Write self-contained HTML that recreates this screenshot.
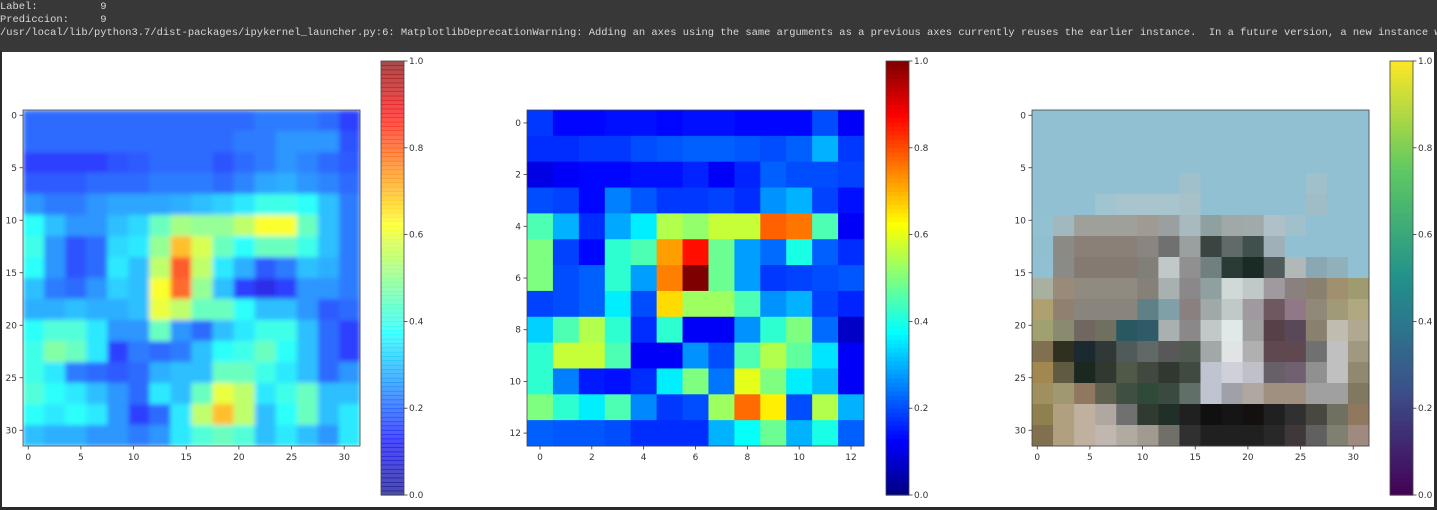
<!DOCTYPE html>
<html><head><meta charset="utf-8"><style>
html,body{margin:0;padding:0;width:1437px;height:510px;overflow:hidden;background:#2b2b2b}
#top{position:absolute;left:0;top:0;width:1437px;height:51px;background:#383838;color:#d8d8d8;font-family:"Liberation Mono",monospace;font-size:10.45px;line-height:13px;padding-top:1px;white-space:pre;overflow:hidden}
#out{position:absolute;left:2px;top:52px;width:1432px;height:455px;background:#fff}
svg text{font-family:"DejaVu Sans","Liberation Sans",sans-serif;font-size:9px;fill:#333}
</style></head><body>
<div id="top">Label:          9
Prediccion:     9
/usr/local/lib/python3.7/dist-packages/ipykernel_launcher.py:6: MatplotlibDeprecationWarning: Adding an axes using the same arguments as a previous axes currently reuses the earlier instance.  In a future version, a new instance will</div>
<div id="out"></div>
<svg id="fig" width="1437" height="510" style="position:absolute;left:0;top:0"></svg>
<script>
const heat32 = [
[0.2,0.2,0.2,0.2,0.2,0.2,0.2,0.2,0.2,0.2,0.2,0.22,0.22,0.22,0.2,0.15],
[0.2,0.2,0.2,0.2,0.2,0.2,0.2,0.2,0.2,0.2,0.22,0.22,0.25,0.25,0.25,0.17],
[0.15,0.15,0.15,0.15,0.17,0.18,0.2,0.2,0.2,0.17,0.2,0.22,0.25,0.23,0.2,0.18],
[0.18,0.18,0.18,0.2,0.2,0.2,0.22,0.22,0.22,0.2,0.23,0.27,0.28,0.25,0.23,0.2],
[0.25,0.22,0.22,0.25,0.27,0.27,0.27,0.28,0.3,0.32,0.35,0.4,0.4,0.38,0.3,0.22],
[0.38,0.3,0.25,0.25,0.3,0.33,0.45,0.52,0.5,0.5,0.55,0.62,0.62,0.45,0.3,0.22],
[0.4,0.25,0.17,0.2,0.33,0.35,0.5,0.7,0.58,0.45,0.38,0.45,0.45,0.4,0.3,0.22],
[0.38,0.25,0.17,0.2,0.35,0.3,0.55,0.82,0.55,0.35,0.28,0.18,0.22,0.3,0.28,0.22],
[0.3,0.22,0.2,0.25,0.32,0.3,0.62,0.8,0.5,0.3,0.15,0.1,0.15,0.25,0.25,0.22],
[0.28,0.28,0.3,0.28,0.28,0.3,0.6,0.55,0.45,0.45,0.38,0.3,0.3,0.25,0.18,0.2],
[0.38,0.42,0.42,0.35,0.25,0.25,0.45,0.25,0.2,0.3,0.35,0.4,0.4,0.3,0.2,0.15],
[0.4,0.48,0.45,0.35,0.15,0.22,0.2,0.22,0.3,0.38,0.4,0.45,0.38,0.3,0.2,0.15],
[0.4,0.35,0.22,0.2,0.18,0.2,0.28,0.3,0.3,0.45,0.45,0.4,0.35,0.3,0.2,0.25],
[0.42,0.38,0.35,0.3,0.25,0.2,0.35,0.3,0.45,0.6,0.55,0.35,0.4,0.45,0.3,0.3],
[0.38,0.35,0.38,0.35,0.25,0.15,0.2,0.35,0.55,0.7,0.55,0.3,0.38,0.45,0.3,0.35],
[0.3,0.28,0.28,0.25,0.25,0.22,0.25,0.35,0.42,0.45,0.42,0.3,0.35,0.3,0.25,0.35]];
const heat13 = [
[0.18,0.13,0.13,0.14,0.14,0.13,0.14,0.14,0.13,0.13,0.13,0.2,0.12],
[0.17,0.17,0.18,0.18,0.2,0.21,0.22,0.22,0.21,0.2,0.22,0.3,0.18],
[0.1,0.12,0.13,0.13,0.14,0.14,0.16,0.12,0.16,0.22,0.2,0.2,0.19],
[0.2,0.19,0.13,0.25,0.21,0.18,0.18,0.19,0.17,0.27,0.3,0.19,0.14],
[0.45,0.3,0.17,0.29,0.36,0.55,0.52,0.57,0.57,0.78,0.76,0.45,0.12],
[0.5,0.19,0.13,0.42,0.45,0.72,0.86,0.48,0.28,0.23,0.4,0.22,0.17],
[0.5,0.2,0.22,0.42,0.28,0.75,1.0,0.48,0.28,0.18,0.19,0.2,0.21],
[0.19,0.2,0.22,0.36,0.2,0.66,0.53,0.53,0.45,0.27,0.3,0.19,0.16],
[0.33,0.45,0.55,0.42,0.17,0.42,0.12,0.12,0.27,0.42,0.5,0.23,0.07],
[0.42,0.57,0.57,0.45,0.12,0.12,0.27,0.2,0.45,0.55,0.47,0.35,0.12],
[0.42,0.25,0.15,0.14,0.17,0.36,0.5,0.24,0.6,0.5,0.36,0.31,0.12],
[0.5,0.42,0.36,0.45,0.26,0.18,0.2,0.53,0.77,0.64,0.2,0.55,0.3],
[0.22,0.21,0.21,0.2,0.17,0.17,0.17,0.3,0.38,0.48,0.3,0.4,0.22]];
const S='#90c0d2';
const truck = [
[S,S,S,S,S,S,S,S,S,S,S,S,S,S,S,S],
[S,S,S,S,S,S,S,S,S,S,S,S,S,S,S,S],
[S,S,S,S,S,S,S,S,S,S,S,S,S,S,S,S],
[S,S,S,S,S,S,S,'#a0c0cc',S,S,S,S,S,'#a0c0cc',S,S],
[S,S,S,'#a0c4d0','#a8c4cc','#a8c4cc','#a8c4cc','#a8c0c8',S,S,S,S,S,'#a0bcc6',S,S],
['#92c2d2','#a0b8be','#a0a09a','#a0a09a','#a0a09a','#a09a92','#9aa0a0','#a9b9c0','#8fa0a0','#a0a8a8','#a0aaaa','#b0c0c8','#a0c0cc',S,S,S],
['#90c0d0','#8c8a84','#8a8078','#8a8078','#8a8078','#8a8580','#707070','#9aa0a0','#3a4440','#606a68','#40504c','#a0b0b8',S,S,S,S],
[S,'#8a8a86','#857a72','#857a72','#857a72','#808078','#c0c8c8','#909090','#708080','#2a3a34','#1a2a24','#505a58','#b0b8b8','#8aa8b4','#90b0ba',S],
['#a8b0a0','#9a8a78','#908a80','#908a80','#908a80','#858078','#a8b0b0','#8a8888','#90a0a0','#d0d8d8','#c0c8c8','#a09aa0','#8a8080','#8a8070','#a09070','#a09a70'],
['#b0a070','#908070','#8a857c','#8a857c','#8a857c','#608088','#80a0a8','#8a8080','#a0a8a8','#c0c8c8','#a09aa0','#705860','#907888','#908878','#a09a78','#b0a880'],
['#a0a070','#8a8a70','#706860','#707060','#2a5860','#305a68','#a8b0b0','#8a8888','#c0c8c8','#e0e8e8','#a0a0a0','#584048','#584858','#8a8070','#c0bcb0','#b0a890'],
['#807050','#303020','#1a2a30','#303838','#505a5a','#606868','#585858','#505a50','#a0a8a8','#e0e4e4','#b0b0b0','#604850','#604850','#707070','#c0c0c0','#a09880'],
['#a08850','#605a40','#1a2820','#303830','#505848','#404840','#303830','#404a40','#c0c4d0','#d0d0d8','#c0c0c8','#686068','#706070','#909090','#c0c0c0','#908870'],
['#a09060','#a09870','#907860','#606050','#405040','#304a3a','#3a4a40','#607068','#c0c4d0','#a0a0a8','#b0a8a0','#a09080','#a09080','#a0a0a0','#a0a0a0','#807860'],
['#908050','#b0a080','#c0b0a0','#b0a8a0','#707070','#303a30','#203028','#202020','#101010','#151515','#151010','#202020','#303030','#484840','#707060','#907860'],
['#807050','#b0a080','#c0b0a0','#c0b8b0','#b0aaa0','#a09a90','#707068','#303030','#202020','#202020','#202020','#282828','#403838','#606060','#808070','#a08a80']];
const ticks32 = [0,5,10,15,20,25,30];
const ticks13 = [0,2,4,6,8,10,12];
const cbTicks = [0.0,0.2,0.4,0.6,0.8,1.0];

const NS='http://www.w3.org/2000/svg';
const svg=document.getElementById('fig');
function el(t,a,p){const e=document.createElementNS(NS,t);for(const k in a)e.setAttribute(k,a[k]);(p||svg).appendChild(e);return e;}
const cl=v=>Math.max(0,Math.min(1,v));
function jet(v){const r=cl(1.5-Math.abs(4*v-3)),g=cl(1.5-Math.abs(4*v-2)),b=cl(1.5-Math.abs(4*v-1));return `rgb(${r*255|0},${g*255|0},${b*255|0})`;}
const vir=[[68,1,84],[59,82,139],[33,145,140],[94,201,98],[253,231,37]];
function viridis(v){v=cl(v)*4;const i=Math.min(3,Math.floor(v)),f=v-i;const a=vir[i],b=vir[i+1];return `rgb(${a.map((c,k)=>Math.round(c+(b[k]-c)*f)).join(',')})`;}

const AX={top:110,bot:446,w:337};
const defs=el('defs',{});
const f=el('filter',{id:'bl',x:'0',y:'0',width:'1',height:'1'},defs);el('feGaussianBlur',{stdDeviation:2.5,edgeMode:'duplicate'},f);

function panel(x0,n,tickList,fillCell,name){
  const g=el('g',{});
  
  
  const sx=i=>x0+(i+0.5)*AX.w/n, sy=i=>AX.top+(i+0.5)*(AX.bot-AX.top)/n;
  fillCell(g,x0);
  el('rect',{x:x0,y:AX.top,width:AX.w,height:AX.bot-AX.top,fill:'none',stroke:'#444','stroke-width':0.8},g);
  tickList.forEach(t=>{
    el('line',{x1:sx(t),x2:sx(t),y1:AX.bot,y2:AX.bot+3.5,stroke:'#333','stroke-width':0.8},g);
    const tx=el('text',{x:sx(t),y:AX.bot+14,'text-anchor':'middle'},g);tx.textContent=t;
    
    
    el('line',{x1:x0-3.5,x2:x0,y1:sy(t),y2:sy(t),stroke:'#333','stroke-width':0.8},g);
    const ty=el('text',{x:x0-6,y:sy(t)+3,'text-anchor':'end'},g);ty.textContent=t;
    
    
  });
}
function grid(data,cmap,op,blur){return (g,x0)=>{
  const n=data.length,cw=AX.w/n,ch=(AX.bot-AX.top)/n;
  const wrap=el('g',{opacity:op},g);
  const gg=el('g',blur?{filter:'url(#bl)'}:{},wrap);
  data.forEach((row,r)=>row.forEach((v,c)=>{
    const rc=el('rect',{x:x0+c*cw,y:AX.top+r*ch,width:cw+0.5,height:ch+0.5,fill:cmap(v)},gg);
    
    
  }));
};}

function colorbar(x,cmap,op,name){
  const g=el('g',{});
  
  
  const top=61,bot=495,w=23,N=100;
  for(let i=0;i<N;i++){const v=i/N;el('rect',{x:x,y:bot-(i+1)*(bot-top)/N,width:w,height:(bot-top)/N+0.6,fill:cmap(v+0.005),opacity:op},g);}
  el('rect',{x:x,y:top,width:w,height:bot-top,fill:'none',stroke:'#444','stroke-width':0.8},g);
  cbTicks.forEach(t=>{const y=bot-t*(bot-top);
    el('line',{x1:x+w,x2:x+w+3.5,y1:y,y2:y,stroke:'#333','stroke-width':0.8},g);
    const tx=el('text',{x:x+w+5,y:y+3},g);tx.textContent=t.toFixed(1);
    
    });
}
el('rect',{x:0,y:51,width:2,height:459,fill:'#2b2b2b'});
panel(23,32,ticks32,grid(heat32,jet,0.82,true),'heatmap-overlay-panel');
colorbar(381,jet,0.7,'colorbar-left');
panel(527,13,ticks13,grid(heat13,jet,1,false),'activation-heatmap-panel');
colorbar(886,jet,1,'colorbar-middle');
panel(1032,32,ticks32,grid(truck,c=>c,1,false),'input-image-panel');
colorbar(1390,viridis,1,'colorbar-right');
</script>
</body></html>
